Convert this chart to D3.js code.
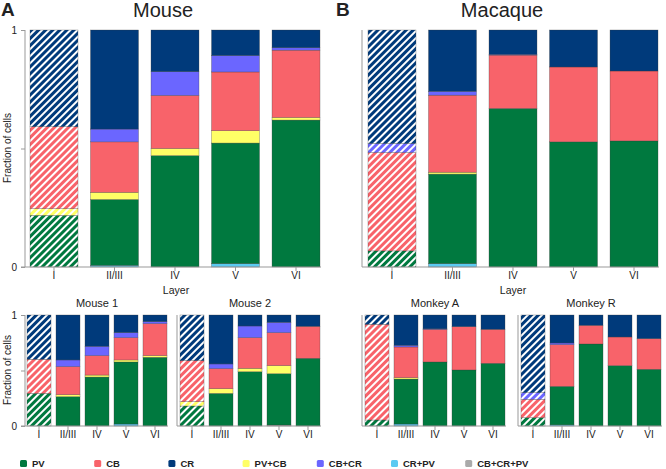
<!DOCTYPE html>
<html>
<head>
<meta charset="utf-8">
<script src="https://cdn.jsdelivr.net/npm/d3@7"></script>
<style>
  body { margin: 0; background: #fff; }
  text { font-family: "Liberation Sans", Arial, Helvetica, sans-serif; fill: #222; }
</style>
</head>
<body>
<svg id="chart" width="666" height="469"></svg>
<script>
// stacking order, bottom to top
const keys = ["CB+CR+PV", "CR+PV", "PV", "PV+CB", "CB", "CB+CR", "CR"];
const legendOrder = ["PV", "CB", "CR", "PV+CB", "CB+CR", "CR+PV", "CB+CR+PV"];
const colors = {
  "PV": "#00793f", "CB": "#f8636a", "CR": "#003a7b", "PV+CB": "#ffff66",
  "CB+CR": "#6b66ff", "CR+PV": "#5ccaf2", "CB+CR+PV": "#aaaaaa"
};
const layers = ["I", "II/III", "IV", "V", "VI"];

// fractions per layer, in keys order
const mouseAll = [
  [0, 0,     0.218, 0.028, 0.346, 0,     0.408],
  [0, 0.007, 0.278, 0.030, 0.213, 0.054, 0.418],
  [0, 0,     0.470, 0.030, 0.224, 0.100, 0.176],
  [0, 0.014, 0.509, 0.052, 0.248, 0.069, 0.108],
  [0, 0,     0.620, 0.011, 0.284, 0.010, 0.075]
];
const macaqueAll = [
  [0, 0,     0.068, 0,     0.415, 0.038, 0.479],
  [0, 0.014, 0.378, 0.008, 0.325, 0.016, 0.259],
  [0, 0,     0.669, 0,     0.225, 0.003, 0.103],
  [0, 0,     0.528, 0,     0.316, 0,     0.156],
  [0, 0,     0.532, 0,     0.295, 0,     0.173]
];
const mouse1 = [
  [0, 0,     0.294, 0,     0.307, 0,     0.399],
  [0, 0,     0.264, 0.018, 0.253, 0.060, 0.405],
  [0, 0,     0.441, 0.018, 0.175, 0.084, 0.282],
  [0, 0.018, 0.559, 0.018, 0.201, 0.045, 0.159],
  [0, 0,     0.619, 0.015, 0.288, 0.018, 0.060]
];
const mouse2 = [
  [0,     0, 0.180, 0.039, 0.370, 0,     0.411],
  [0,     0, 0.294, 0.042, 0.181, 0.042, 0.441],
  [0,     0, 0.489, 0.031, 0.276, 0.105, 0.099],
  [0.009, 0, 0.462, 0.073, 0.297, 0.093, 0.066],
  [0,     0, 0.610, 0,     0.288, 0,     0.102]
];
const monkeyA = [
  [0, 0,     0.054, 0,     0.862, 0,     0.084],
  [0, 0.018, 0.405, 0.012, 0.277, 0.015, 0.273],
  [0, 0,     0.577, 0,     0.294, 0.004, 0.125],
  [0, 0,     0.505, 0,     0.390, 0,     0.105],
  [0, 0,     0.565, 0,     0.306, 0,     0.129]
];
const monkeyR = [
  [0, 0,    0.075, 0, 0.165, 0.060, 0.700],
  [0, 0.01, 0.347, 0, 0.376, 0.015, 0.252],
  [0, 0,    0.739, 0, 0.168, 0,     0.093],
  [0, 0,    0.544, 0, 0.258, 0,     0.198],
  [0, 0,    0.511, 0, 0.276, 0,     0.213]
];

const svg = d3.select("#chart");
const defs = svg.append("defs");

// hatch patterns for layer I
keys.forEach((k, i) => {
  const p = defs.append("pattern")
    .attr("id", "hatch" + i)
    .attr("patternUnits", "userSpaceOnUse")
    .attr("width", 5).attr("height", 5)
    .attr("patternTransform", "rotate(45)");
  p.append("rect").attr("width", 5).attr("height", 5).attr("fill", colors[k]);
  p.append("line").attr("x1", 1).attr("x2", 1).attr("y1", 0).attr("y2", 5)
    .attr("stroke", "#fff").attr("stroke-width", 2);
});

function drawPanel(data, o) {
  const x = d3.scaleBand().domain(layers).range([o.x0, o.x1]).paddingInner(o.pad);
  const y = d3.scaleLinear().domain([0, 1]).range([o.yb, o.yt]);
  const rows = data.map((r, i) => {
    const obj = { layer: layers[i] };
    keys.forEach((k, j) => obj[k] = r[j]);
    return obj;
  });
  const series = d3.stack().keys(keys)(rows);

  const g = svg.append("g");
  series.forEach((s, si) => {
    g.selectAll(null).data(s).join("rect")
      .attr("x", d => x(d.data.layer))
      .attr("width", x.bandwidth())
      .attr("y", d => y(d[1]))
      .attr("height", d => Math.max(0, y(d[0]) - y(d[1])))
      .attr("fill", d => d.data.layer === "I" ? "url(#hatch" + si + ")" : colors[s.key])
      .attr("stroke", d => (d[1] - d[0]) > 0 ? "#3a3a3a" : "none")
      .attr("stroke-width", 0.5)
      .attr("stroke-opacity", 0.6);
  });

  // y axis
  const ya = svg.append("g").attr("transform", "translate(" + o.ax + ",0)")
    .call(d3.axisLeft(y).tickValues(o.ticks ? [0, 0.5, 1] : []).tickSize(4)
      .tickFormat(d => d === 0.5 ? "" : d3.format("d")(d)));
  ya.select(".domain").attr("stroke", "#999").attr("d", "M0," + o.yb + "V" + o.yt);
  ya.selectAll(".tick line").attr("stroke", "#999");
  ya.selectAll(".tick text").attr("font-size", 10).attr("dx", -1)
    .attr("font-family", "Liberation Sans, Arial, sans-serif").attr("fill", "#222");

  // x axis
  const xa = svg.append("g").attr("transform", "translate(0," + o.yb + ")")
    .call(d3.axisBottom(x).tickSize(4).tickSizeOuter(0));
  xa.select(".domain").attr("stroke", "#999")
    .attr("d", "M" + (o.ticks ? o.ax - 4 : o.ax) + ",0H" + (o.x1 + 1));
  xa.selectAll(".tick line").attr("stroke", "#999");
  xa.selectAll(".tick text").attr("font-size", 10).attr("y", 5).attr("dy", "0.71em")
    .attr("font-family", "Liberation Sans, Arial, sans-serif").attr("fill", "#222");

  if (o.title) {
    svg.append("text").attr("x", (o.x0 + o.x1) / 2).attr("y", o.yt - 8)
      .attr("text-anchor", "middle").attr("font-size", 11).text(o.title);
  }
}

drawPanel(mouseAll,   { x0: 30,  x1: 320, pad: 0.207, ax: 25,  yb: 267, yt: 30, ticks: true });
drawPanel(macaqueAll, { x0: 368, x1: 658, pad: 0.207, ax: 362, yb: 267, yt: 30, ticks: false });
drawPanel(mouse1,  { x0: 27,  x1: 167, pad: 0.172, ax: 25,  yb: 426, yt: 315, ticks: true,  title: "Mouse 1" });
drawPanel(mouse2,  { x0: 180, x1: 320, pad: 0.172, ax: 177, yb: 426, yt: 315, ticks: false, title: "Mouse 2" });
drawPanel(monkeyA, { x0: 365, x1: 505, pad: 0.172, ax: 362, yb: 426, yt: 315, ticks: false, title: "Monkey A" });
drawPanel(monkeyR, { x0: 521, x1: 661, pad: 0.172, ax: 518, yb: 426, yt: 315, ticks: false, title: "Monkey R" });

// headings
svg.append("text").attr("x", 1).attr("y", 16).attr("font-size", 19).attr("font-weight", "bold").text("A");
svg.append("text").attr("x", 336).attr("y", 16).attr("font-size", 19).attr("font-weight", "bold").text("B");
svg.append("text").attr("x", 163).attr("y", 17).attr("text-anchor", "middle").attr("font-size", 20).text("Mouse");
svg.append("text").attr("x", 502).attr("y", 17).attr("text-anchor", "middle").attr("font-size", 20).text("Macaque");

svg.append("text").attr("x", 176).attr("y", 294).attr("text-anchor", "middle").attr("font-size", 10.5).text("Layer");
svg.append("text").attr("x", 513).attr("y", 294).attr("text-anchor", "middle").attr("font-size", 10.5).text("Layer");

[148, 370].forEach(cy => {
  svg.append("text").attr("transform", "translate(11," + cy + ") rotate(-90)")
    .attr("text-anchor", "middle").attr("font-size", 10).text("Fraction of cells");
});

// legend
const leg = svg.append("g");
legendOrder.forEach((k, i) => {
  const lx = 20 + i * 74.2;
  leg.append("rect").attr("x", lx).attr("y", 460).attr("width", 7).attr("height", 7)
    .attr("rx", 1.5).attr("fill", colors[k]);
  leg.append("text").attr("x", lx + 12).attr("y", 467).attr("font-size", 9.5)
    .attr("font-weight", "bold").attr("fill", "#333").text(k);
});
</script>
</body>
</html>
